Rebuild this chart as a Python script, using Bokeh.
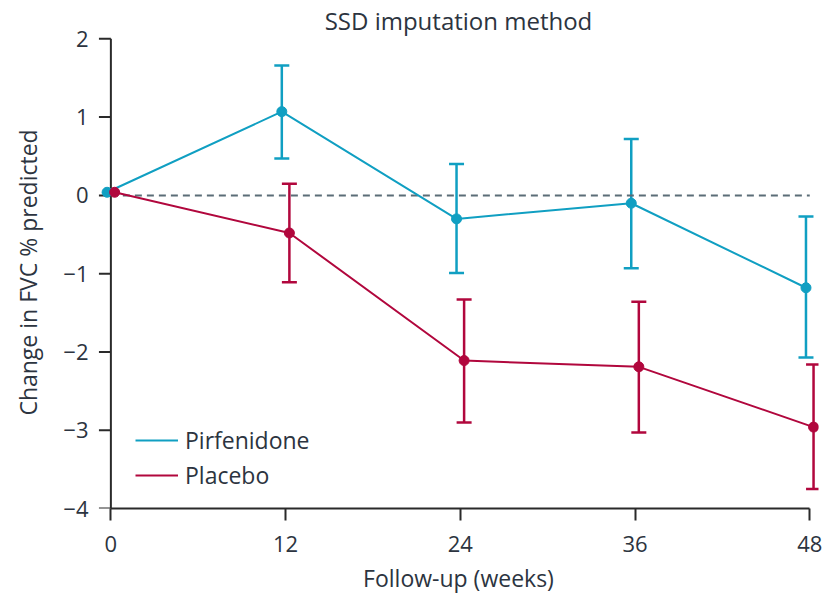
import math
from bokeh.plotting import figure
from bokeh.models import (ColumnDataSource, Whisker, TeeHead, FixedTicker,
                          Range1d, Legend, LegendItem, LinearAxis)
from bokeh.embed import file_html
from bokeh.resources import INLINE

# Follow-up time points (weeks)
weeks = [0, 12, 24, 36, 48]

# Mean change in FVC % predicted with error bounds
pirf_mean = [0.04, 1.07, -0.30, -0.10, -1.18]
pirf_upper = [None, 1.66, 0.40, 0.72, -0.27]
pirf_lower = [None, 0.47, -0.99, -0.93, -2.07]

plac_mean = [0.04, -0.48, -2.11, -2.19, -2.96]
plac_upper = [None, 0.15, -1.33, -1.36, -2.16]
plac_lower = [None, -1.11, -2.90, -3.03, -3.75]

# small horizontal offset so the two groups don't overlap
dodge = 0.26

y_ticks = [-4, -3, -2, -1, 0, 1, 2]
y_tick_labels = ["\u22124", "\u22123", "\u22122", "\u22121", "0", "1", "2"]

PIRF = "#109fc2"
PLAC = "#b1073d"
TEXT = "#2c3440"
AXIS = "#2a2a2a"
FONT = "Open Sans"

p = figure(width=825, height=603, output_backend="svg", toolbar_location=None,
           x_range=Range1d(-0.85, 48.6), y_range=Range1d(-4, 2.03),
           min_border_left=98, min_border_right=7,
           min_border_top=33, min_border_bottom=95)
p.outline_line_color = None
p.grid.visible = False
p.background_fill_color = "white"

bottom = p.below[0]
left = p.left[0]

for ax in (bottom, left):
    ax.axis_line_color = AXIS
    ax.axis_line_width = 2
    ax.major_tick_line_color = AXIS
    ax.major_tick_line_width = 2
    ax.major_tick_out = 12
    ax.major_tick_in = 0
    ax.minor_tick_line_color = None
    ax.major_label_text_font = FONT
    ax.major_label_text_font_size = "22px"
    ax.major_label_text_color = TEXT
    ax.axis_label_text_font = FONT
    ax.axis_label_text_font_size = "23px"
    ax.axis_label_text_font_style = "normal"
    ax.axis_label_text_color = TEXT

bottom.ticker = FixedTicker(ticks=weeks)
bottom.bounds = (weeks[0], weeks[-1])
bottom.axis_label = "Follow-up (weeks)"
bottom.major_label_standoff = 15
bottom.axis_label_standoff = 7

# left axis only carries the labels; its line and ticks are drawn at week 0
left.ticker = FixedTicker(ticks=y_ticks)
left.major_label_overrides = {t: s for t, s in zip(y_ticks, y_tick_labels)}
left.axis_line_color = None
left.major_tick_line_color = None
left.major_tick_out = 0
left.major_label_standoff = 10
left.axis_label = "Change in FVC % predicted"
left.axis_label_standoff = 16

# heading: a bare axis above the plot that only shows its label
heading = LinearAxis(axis_label="SSD imputation method",
                     ticker=FixedTicker(ticks=[]),
                     axis_line_color=None, major_tick_line_color=None,
                     minor_tick_line_color=None, major_tick_out=0,
                     major_tick_in=0, minor_tick_out=0, minor_tick_in=0,
                     major_label_standoff=0, axis_label_standoff=0,
                     major_label_text_font_size="0px",
                     axis_label_text_font=FONT, axis_label_text_font_size="24px",
                     axis_label_text_font_style="normal",
                     axis_label_text_line_height=0.8,
                     axis_label_text_color=TEXT)
p.add_layout(heading, "above")

# zero reference line
p.line(x=[weeks[0], weeks[-1]], y=[0, 0], line_color="#5b6d77",
       line_width=2, line_dash="7 5")

# vertical axis drawn at week 0, with outward ticks
p.segment(x0=[weeks[0]], y0=[y_ticks[0]], x1=[weeks[0]], y1=[y_ticks[-1]],
          line_color=AXIS, line_width=2)
p.ray(x=[weeks[0]] * len(y_ticks), y=y_ticks, length=12, length_units="screen",
      angle=math.pi, line_color=AXIS, line_width=2)

def add_group(mean, upper, lower, color, shift):
    xs = [w + shift for w in weeks]
    src = ColumnDataSource(dict(x=xs, y=mean))
    ln = p.line("x", "y", source=src, line_color=color, line_width=2)
    bars = ColumnDataSource(dict(
        x=[x for x, u in zip(xs, upper) if u is not None],
        upper=[u for u in upper if u is not None],
        lower=[l for l in lower if l is not None]))
    p.add_layout(Whisker(source=bars, base="x", upper="upper", lower="lower",
                         dimension="height", line_color=color, line_width=2.5,
                         upper_head=TeeHead(size=15, line_color=color, line_width=2.5),
                         lower_head=TeeHead(size=15, line_color=color, line_width=2.5)))
    p.scatter("x", "y", source=src, size=10, fill_color=color, line_color=color)
    return ln

ln_pirf = add_group(pirf_mean, pirf_upper, pirf_lower, PIRF, -dodge)
ln_plac = add_group(plac_mean, plac_upper, plac_lower, PLAC, dodge)

legend = Legend(items=[LegendItem(label="Pirfenidone", renderers=[ln_pirf]),
                       LegendItem(label="Placebo", renderers=[ln_plac])],
                location=(37, 17), border_line_color=None,
                background_fill_alpha=0, padding=0, margin=0,
                glyph_width=43, glyph_height=28, label_height=28,
                label_standoff=7, spacing=3,
                label_text_font=FONT, label_text_font_size="23px",
                label_text_color=TEXT)
p.add_layout(legend)

open("out.html", "w").write(file_html(p, INLINE))
